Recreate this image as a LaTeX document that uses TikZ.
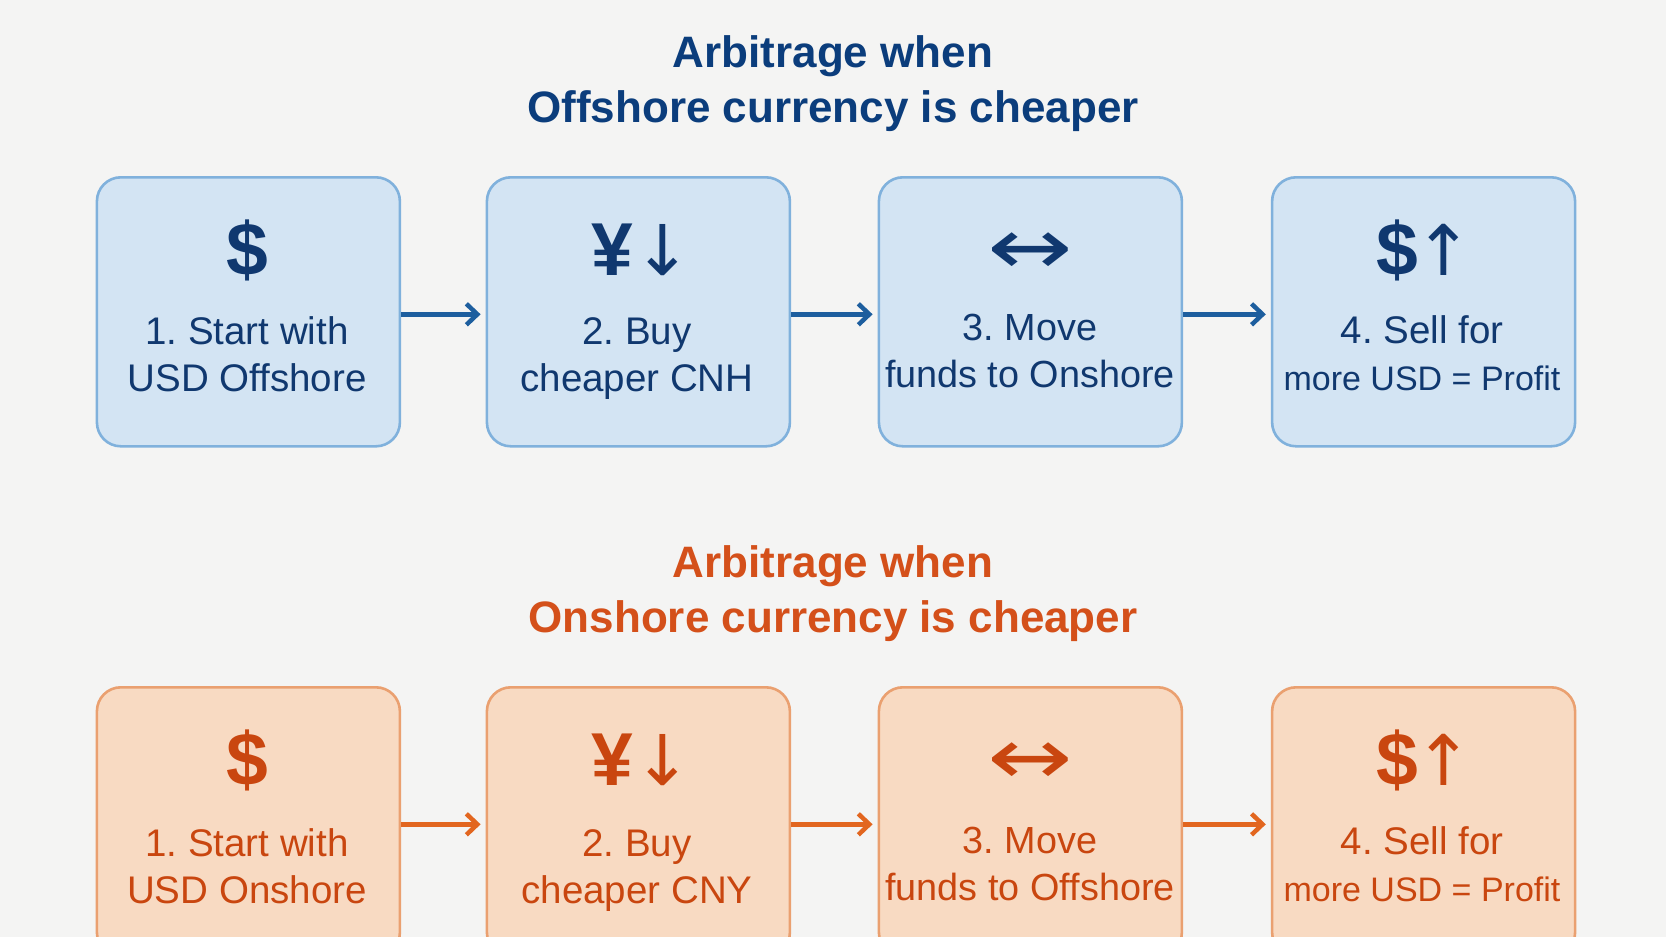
\documentclass[tikz,border=0pt]{standalone}
\usepackage{fontspec}
\setmainfont{Liberation Sans}
\newfontfamily\symfont{DejaVu Sans}
\usetikzlibrary{arrows.meta}
\frenchspacing
\definecolor{bg}{HTML}{F4F4F3}
\definecolor{bfill}{HTML}{D3E4F3}
\definecolor{bdraw}{HTML}{80B1DC}
\definecolor{btext}{HTML}{10386F}
\definecolor{barrow}{HTML}{1D5E9E}
\definecolor{btitle}{HTML}{0B3D7C}
\definecolor{ofill}{HTML}{F8DAC2}
\definecolor{odraw}{HTML}{EAA070}
\definecolor{otext}{HTML}{C9460F}
\definecolor{oarrow}{HTML}{E2661F}
\definecolor{otitle}{HTML}{D4501A}
\newcommand{\arrsym}[1]{{\symfont\mdseries\fontsize{70}{70}\selectfont #1}}
\newcommand{\lrsym}{\scalebox{1.55}[1.2]{\symfont\mdseries\fontsize{66}{66}\selectfont ↔}}
\tikzset{
  stepbox/.style={draw, rounded corners=24pt, line width=2.6pt, minimum width=303pt, minimum height=269pt, inner sep=0pt, anchor=north west},
  bluebox/.style={stepbox, fill=bfill, draw=bdraw},
  orangebox/.style={stepbox, fill=ofill, draw=odraw},
  titletext/.style={font=\fontsize{44}{55}\selectfont\bfseries, align=center, inner sep=0pt},
  icontext/.style={font=\fontsize{75}{75}\selectfont\bfseries, inner sep=0pt},
  steptext/.style={font=\fontsize{38.5}{47}\selectfont, align=center, inner sep=0pt},
  flow/.style={line width=4.5pt, -{Straight Barb[length=11pt,width=21pt,line width=4.5pt]}, shorten >=5pt},
}
\begin{document}
\begin{tikzpicture}[x=1pt,y=-1pt]
\path[fill=bg] (0,0) rectangle (1666,937);
\clip (0,0) rectangle (1666,937);
% ---------- top row ----------
\node[titletext, text=btitle] (t1) at (833,84) {Arbitrage when\\Offshore currency is cheaper};
\node[bluebox] (a1) at (95.6,176) {};
\node[bluebox] (a2) at (485.6,176) {};
\node[bluebox] (a3) at (877.6,176) {};
\node[bluebox] (a4) at (1270.8,176) {};
\node[icontext, text=btext] (a1i) at (247,250) {\$};
\node[icontext, text=btext] (a2i) at (642,250) {¥\arrsym{↓}};
\node[icontext, text=btext] (a3i) at (1030,254) {\lrsym};
\node[icontext, text=btext] (a4i) at (1425,250) {\$\kern-4pt\arrsym{↑}};
\node[steptext, text=btext] (a1t) at (247,354) {1. Start with\\USD Offshore};
\node[steptext, text=btext] (a2t) at (637,358.5) {2. Buy\\cheaper CNH};
\node[steptext, text=btext, font=\fontsize{37.8}{47}\selectfont] (a3t) at (1030,351) {3. Move\\funds to Onshore};
\node[steptext, text=btext] (a4t) at (1422,353) {4. Sell for\\{\fontsize{34}{47}\selectfont more USD = Profit}};
\draw[flow, barrow] ([yshift=-2.5pt]a1.east) -- ([yshift=-2.5pt]a2.west);
\draw[flow, barrow] ([yshift=-2.5pt]a2.east) -- ([yshift=-2.5pt]a3.west);
\draw[flow, barrow] ([yshift=-2.5pt]a3.east) -- ([yshift=-2.5pt]a4.west);
% ---------- bottom row ----------
\node[titletext, text=otitle] (t2) at (833,594) {Arbitrage when\\Onshore currency is cheaper};
\node[orangebox] (b1) at (95.6,686) {};
\node[orangebox] (b2) at (485.6,686) {};
\node[orangebox] (b3) at (877.6,686) {};
\node[orangebox] (b4) at (1270.8,686) {};
\node[icontext, text=otext] (b1i) at (247,760) {\$};
\node[icontext, text=otext] (b2i) at (642,760) {¥\arrsym{↓}};
\node[icontext, text=otext] (b3i) at (1030,764) {\lrsym};
\node[icontext, text=otext] (b4i) at (1425,760) {\$\kern-4pt\arrsym{↑}};
\node[steptext, text=otext] (b1t) at (247,866) {1. Start with\\USD Onshore};
\node[steptext, text=otext] (b2t) at (637,870.5) {2. Buy\\cheaper CNY};
\node[steptext, text=otext, font=\fontsize{37.8}{47}\selectfont] (b3t) at (1030,864) {3. Move\\funds to Offshore};
\node[steptext, text=otext] (b4t) at (1422,864) {4. Sell for\\{\fontsize{34}{47}\selectfont more USD = Profit}};
\draw[flow, oarrow] ([yshift=-2.5pt]b1.east) -- ([yshift=-2.5pt]b2.west);
\draw[flow, oarrow] ([yshift=-2.5pt]b2.east) -- ([yshift=-2.5pt]b3.west);
\draw[flow, oarrow] ([yshift=-2.5pt]b3.east) -- ([yshift=-2.5pt]b4.west);
\end{tikzpicture}
\end{document}
